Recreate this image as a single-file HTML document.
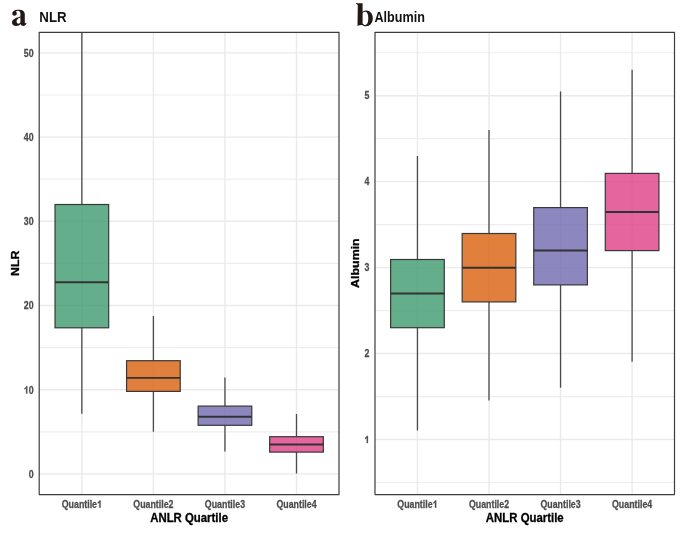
<!DOCTYPE html>
<html><head><meta charset="utf-8"><style>
html,body{margin:0;padding:0;background:#fff;width:685px;height:537px;overflow:hidden}
svg{display:block;will-change:transform}
.tk{font-family:"Liberation Sans",sans-serif;font-weight:bold;font-size:9.6px;fill:#4D4D4D;stroke:#4D4D4D;stroke-width:0.25px}
.ti{font-family:"Liberation Sans",sans-serif;font-weight:bold;font-size:12px;fill:#000;stroke:#000;stroke-width:0.3px}
.pt{font-family:"Liberation Sans",sans-serif;font-weight:bold;font-size:15.5px;fill:#111}
</style></head><body>
<svg width="685" height="537" viewBox="0 0 685 537">
<rect width="685" height="537" fill="#fff"/>
<clipPath id="ca"><rect x="39.2" y="32.3" width="299.80" height="462.30"/></clipPath>
<g clip-path="url(#ca)">
<line x1="39.2" x2="339.0" y1="431.80" y2="431.80" stroke="#EEEEEE" stroke-width="1.2"/>
<line x1="39.2" x2="339.0" y1="347.60" y2="347.60" stroke="#EEEEEE" stroke-width="1.2"/>
<line x1="39.2" x2="339.0" y1="263.40" y2="263.40" stroke="#EEEEEE" stroke-width="1.2"/>
<line x1="39.2" x2="339.0" y1="179.20" y2="179.20" stroke="#EEEEEE" stroke-width="1.2"/>
<line x1="39.2" x2="339.0" y1="95.00" y2="95.00" stroke="#EEEEEE" stroke-width="1.2"/>
<line x1="39.2" x2="339.0" y1="473.90" y2="473.90" stroke="#EAEAEA" stroke-width="1.4"/>
<line x1="39.2" x2="339.0" y1="389.70" y2="389.70" stroke="#EAEAEA" stroke-width="1.4"/>
<line x1="39.2" x2="339.0" y1="305.50" y2="305.50" stroke="#EAEAEA" stroke-width="1.4"/>
<line x1="39.2" x2="339.0" y1="221.30" y2="221.30" stroke="#EAEAEA" stroke-width="1.4"/>
<line x1="39.2" x2="339.0" y1="137.10" y2="137.10" stroke="#EAEAEA" stroke-width="1.4"/>
<line x1="39.2" x2="339.0" y1="52.90" y2="52.90" stroke="#EAEAEA" stroke-width="1.4"/>
<line x1="81.85" x2="81.85" y1="32.3" y2="494.6" stroke="#EAEAEA" stroke-width="1.4"/>
<line x1="153.40" x2="153.40" y1="32.3" y2="494.6" stroke="#EAEAEA" stroke-width="1.4"/>
<line x1="224.95" x2="224.95" y1="32.3" y2="494.6" stroke="#EAEAEA" stroke-width="1.4"/>
<line x1="296.50" x2="296.50" y1="32.3" y2="494.6" stroke="#EAEAEA" stroke-width="1.4"/>
<line x1="81.85" x2="81.85" y1="20.00" y2="204.50" stroke="#4a4a4a" stroke-width="1.3"/>
<line x1="81.85" x2="81.85" y1="327.80" y2="413.80" stroke="#4a4a4a" stroke-width="1.3"/>
<rect x="55.02" y="204.50" width="53.66" height="123.30" fill="#3D9A6F" fill-opacity="0.8" stroke="#383838" stroke-width="1.2"/>
<line x1="55.02" x2="108.68" y1="282.20" y2="282.20" stroke="#333333" stroke-width="1.9"/>
<line x1="153.40" x2="153.40" y1="316.00" y2="360.70" stroke="#4a4a4a" stroke-width="1.3"/>
<line x1="153.40" x2="153.40" y1="391.40" y2="431.80" stroke="#4a4a4a" stroke-width="1.3"/>
<rect x="126.57" y="360.70" width="53.66" height="30.70" fill="#D8600B" fill-opacity="0.8" stroke="#383838" stroke-width="1.2"/>
<line x1="126.57" x2="180.23" y1="377.90" y2="377.90" stroke="#333333" stroke-width="1.9"/>
<line x1="224.95" x2="224.95" y1="377.40" y2="406.10" stroke="#4a4a4a" stroke-width="1.3"/>
<line x1="224.95" x2="224.95" y1="425.30" y2="451.40" stroke="#4a4a4a" stroke-width="1.3"/>
<rect x="198.12" y="406.10" width="53.66" height="19.20" fill="#7069B0" fill-opacity="0.8" stroke="#383838" stroke-width="1.2"/>
<line x1="198.12" x2="251.78" y1="416.80" y2="416.80" stroke="#333333" stroke-width="1.9"/>
<line x1="296.50" x2="296.50" y1="414.00" y2="436.70" stroke="#4a4a4a" stroke-width="1.3"/>
<line x1="296.50" x2="296.50" y1="452.10" y2="473.60" stroke="#4a4a4a" stroke-width="1.3"/>
<rect x="269.67" y="436.70" width="53.66" height="15.40" fill="#DE4087" fill-opacity="0.8" stroke="#383838" stroke-width="1.2"/>
<line x1="269.67" x2="323.33" y1="444.50" y2="444.50" stroke="#333333" stroke-width="1.9"/>
</g>
<line x1="38.900000000000006" x2="339.3" y1="32.3" y2="32.3" stroke="#3f3b39" stroke-width="1.3"/>
<line x1="38.900000000000006" x2="339.3" y1="494.6" y2="494.6" stroke="#3f3b39" stroke-width="1.3"/>
<line x1="39.2" x2="39.2" y1="32.3" y2="494.6" stroke="#3f3b39" stroke-width="1.2"/>
<line x1="339.0" x2="339.0" y1="32.3" y2="494.6" stroke="#3f3b39" stroke-width="1.2"/>
<clipPath id="cb"><rect x="375.0" y="32.3" width="299.50" height="462.30"/></clipPath>
<g clip-path="url(#cb)">
<line x1="375.0" x2="674.5" y1="482.48" y2="482.48" stroke="#EEEEEE" stroke-width="1.2"/>
<line x1="375.0" x2="674.5" y1="396.53" y2="396.53" stroke="#EEEEEE" stroke-width="1.2"/>
<line x1="375.0" x2="674.5" y1="310.58" y2="310.58" stroke="#EEEEEE" stroke-width="1.2"/>
<line x1="375.0" x2="674.5" y1="224.63" y2="224.63" stroke="#EEEEEE" stroke-width="1.2"/>
<line x1="375.0" x2="674.5" y1="138.68" y2="138.68" stroke="#EEEEEE" stroke-width="1.2"/>
<line x1="375.0" x2="674.5" y1="52.73" y2="52.73" stroke="#EEEEEE" stroke-width="1.2"/>
<line x1="375.0" x2="674.5" y1="439.50" y2="439.50" stroke="#EAEAEA" stroke-width="1.4"/>
<line x1="375.0" x2="674.5" y1="353.55" y2="353.55" stroke="#EAEAEA" stroke-width="1.4"/>
<line x1="375.0" x2="674.5" y1="267.60" y2="267.60" stroke="#EAEAEA" stroke-width="1.4"/>
<line x1="375.0" x2="674.5" y1="181.65" y2="181.65" stroke="#EAEAEA" stroke-width="1.4"/>
<line x1="375.0" x2="674.5" y1="95.70" y2="95.70" stroke="#EAEAEA" stroke-width="1.4"/>
<line x1="417.45" x2="417.45" y1="32.3" y2="494.6" stroke="#EAEAEA" stroke-width="1.4"/>
<line x1="489.00" x2="489.00" y1="32.3" y2="494.6" stroke="#EAEAEA" stroke-width="1.4"/>
<line x1="560.55" x2="560.55" y1="32.3" y2="494.6" stroke="#EAEAEA" stroke-width="1.4"/>
<line x1="632.10" x2="632.10" y1="32.3" y2="494.6" stroke="#EAEAEA" stroke-width="1.4"/>
<line x1="417.45" x2="417.45" y1="156.00" y2="259.50" stroke="#4a4a4a" stroke-width="1.3"/>
<line x1="417.45" x2="417.45" y1="327.70" y2="430.60" stroke="#4a4a4a" stroke-width="1.3"/>
<rect x="390.62" y="259.50" width="53.66" height="68.20" fill="#3D9A6F" fill-opacity="0.8" stroke="#383838" stroke-width="1.2"/>
<line x1="390.62" x2="444.28" y1="293.50" y2="293.50" stroke="#333333" stroke-width="1.9"/>
<line x1="489.00" x2="489.00" y1="129.90" y2="233.50" stroke="#4a4a4a" stroke-width="1.3"/>
<line x1="489.00" x2="489.00" y1="301.90" y2="400.60" stroke="#4a4a4a" stroke-width="1.3"/>
<rect x="462.17" y="233.50" width="53.66" height="68.40" fill="#D8600B" fill-opacity="0.8" stroke="#383838" stroke-width="1.2"/>
<line x1="462.17" x2="515.83" y1="267.80" y2="267.80" stroke="#333333" stroke-width="1.9"/>
<line x1="560.55" x2="560.55" y1="91.40" y2="207.60" stroke="#4a4a4a" stroke-width="1.3"/>
<line x1="560.55" x2="560.55" y1="284.90" y2="387.70" stroke="#4a4a4a" stroke-width="1.3"/>
<rect x="533.72" y="207.60" width="53.66" height="77.30" fill="#7069B0" fill-opacity="0.8" stroke="#383838" stroke-width="1.2"/>
<line x1="533.72" x2="587.38" y1="250.50" y2="250.50" stroke="#333333" stroke-width="1.9"/>
<line x1="632.10" x2="632.10" y1="69.80" y2="173.40" stroke="#4a4a4a" stroke-width="1.3"/>
<line x1="632.10" x2="632.10" y1="250.60" y2="361.70" stroke="#4a4a4a" stroke-width="1.3"/>
<rect x="605.27" y="173.40" width="53.66" height="77.20" fill="#DE4087" fill-opacity="0.8" stroke="#383838" stroke-width="1.2"/>
<line x1="605.27" x2="658.93" y1="212.00" y2="212.00" stroke="#333333" stroke-width="1.9"/>
</g>
<line x1="374.7" x2="674.8" y1="32.3" y2="32.3" stroke="#3f3b39" stroke-width="1.3"/>
<line x1="374.7" x2="674.8" y1="494.6" y2="494.6" stroke="#3f3b39" stroke-width="1.3"/>
<line x1="375.0" x2="375.0" y1="32.3" y2="494.6" stroke="#3f3b39" stroke-width="1.2"/>
<line x1="674.5" x2="674.5" y1="32.3" y2="494.6" stroke="#3f3b39" stroke-width="1.2"/>
<text transform="translate(33.60,477.70) scale(0.92,1.05)" text-anchor="end" class="tk">0</text>
<path transform="translate(23.78,393.50) scale(0.00883,-0.01008)" d="M402 0L262 0L262 516C211 468 151 432 82 410L82 534C118 546 158 568 200 602C243 636 273 674 289 716L402 716Z" fill="#4D4D4D" stroke="#4D4D4D" stroke-width="28.3"/>
<text transform="translate(33.60,393.50) scale(0.92,1.05)" text-anchor="end" class="tk">0</text>
<text transform="translate(33.60,309.30) scale(0.92,1.05)" text-anchor="end" class="tk">20</text>
<text transform="translate(33.60,225.10) scale(0.92,1.05)" text-anchor="end" class="tk">30</text>
<text transform="translate(33.60,140.90) scale(0.92,1.05)" text-anchor="end" class="tk">40</text>
<text transform="translate(33.60,56.70) scale(0.92,1.05)" text-anchor="end" class="tk">50</text>
<path transform="translate(364.39,443.10) scale(0.00883,-0.01008)" d="M402 0L262 0L262 516C211 468 151 432 82 410L82 534C118 546 158 568 200 602C243 636 273 674 289 716L402 716Z" fill="#4D4D4D" stroke="#4D4D4D" stroke-width="28.3"/>
<text transform="translate(369.30,357.15) scale(0.92,1.05)" text-anchor="end" class="tk">2</text>
<text transform="translate(369.30,271.20) scale(0.92,1.05)" text-anchor="end" class="tk">3</text>
<text transform="translate(369.30,185.25) scale(0.92,1.05)" text-anchor="end" class="tk">4</text>
<text transform="translate(369.30,99.30) scale(0.92,1.05)" text-anchor="end" class="tk">5</text>
<text transform="translate(61.73,507.70) scale(0.92,1.06)" text-anchor="start" class="tk">Quantile</text>
<path transform="translate(97.06,507.70) scale(0.00883,-0.01018)" d="M402 0L262 0L262 516C211 468 151 432 82 410L82 534C118 546 158 568 200 602C243 636 273 674 289 716L402 716Z" fill="#4D4D4D" stroke="#4D4D4D" stroke-width="28.3"/>
<text transform="translate(153.40,507.70) scale(0.92,1.06)" text-anchor="middle" class="tk">Quantile2</text>
<text transform="translate(224.95,507.70) scale(0.92,1.06)" text-anchor="middle" class="tk">Quantile3</text>
<text transform="translate(296.50,507.70) scale(0.92,1.06)" text-anchor="middle" class="tk">Quantile4</text>
<text transform="translate(189.10,522.10) scale(0.95,1.0)" text-anchor="middle" class="ti">ANLR Quartile</text>
<text transform="translate(397.33,507.70) scale(0.92,1.06)" text-anchor="start" class="tk">Quantile</text>
<path transform="translate(432.66,507.70) scale(0.00883,-0.01018)" d="M402 0L262 0L262 516C211 468 151 432 82 410L82 534C118 546 158 568 200 602C243 636 273 674 289 716L402 716Z" fill="#4D4D4D" stroke="#4D4D4D" stroke-width="28.3"/>
<text transform="translate(489.00,507.70) scale(0.92,1.06)" text-anchor="middle" class="tk">Quantile2</text>
<text transform="translate(560.55,507.70) scale(0.92,1.06)" text-anchor="middle" class="tk">Quantile3</text>
<text transform="translate(632.10,507.70) scale(0.92,1.06)" text-anchor="middle" class="tk">Quantile4</text>
<text transform="translate(524.75,522.10) scale(0.95,1.0)" text-anchor="middle" class="ti">ANLR Quartile</text>
<text transform="translate(18.60,263.30) rotate(-90) scale(1.03,0.98)" text-anchor="middle" class="ti">NLR</text>
<text transform="translate(359.00,263.10) rotate(-90) scale(1.035,0.98)" text-anchor="middle" class="ti">Albumin</text>
<path fill="#231815" fill-rule="evenodd" d="M18.5 9.8C22.2 9.8 24.8 11 24.8 14.4L24.8 22.4C24.8 23.3 25.3 23.5 25.8 23.1L26.7 22.8C26.2 24.8 25 25.9 23.3 25.9C21.8 25.9 21 25.1 20.7 23.9C19.8 25.2 18.3 25.9 16.2 25.9C13.6 25.9 12 24.6 12 22.5C12 19.8 14.3 18.3 20.4 16.5L20.4 13.7C20.4 11.7 19.5 10.7 17.9 10.7C17 10.7 16.3 11 16 11.5C16.6 12 16.8 12.7 16.8 13.5C16.8 14.8 15.8 15.7 14.5 15.7C13.1 15.7 12.3 14.7 12.3 13.4C12.3 11.3 15 9.8 18.5 9.8ZM20.4 17.5C17.6 18.4 16.6 19.8 16.6 21.6C16.6 23 17.4 23.7 18.4 23.7C19.3 23.7 19.9 23.3 20.4 22.6Z"/>
<text transform="translate(39.30,21.80) scale(0.858,1.0)" text-anchor="start" class="pt">NLR</text>
<path fill="#231815" fill-rule="evenodd" d="M355.9 3.3L362.6 3.2L362.6 11.7C363.6 10.9 364.8 10.5 366.1 10.5C370.1 10.5 372.8 13.8 372.8 18.2C372.8 22.9 369.9 26.2 365.8 26.2C364.3 26.2 363.2 25.7 362.3 24.9L360.2 25.1L357.5 26.1L357.8 5.3C357.8 4.6 357.1 4.1 355.9 3.9ZM362.6 13.1C363.3 12.3 364.1 11.8 365 11.8C367.3 11.8 368.3 14.3 368.3 18.4C368.3 22.6 367.2 24.9 365.2 24.9C364.1 24.9 363.2 24.3 362.6 23.4Z"/>
<text transform="translate(374.40,21.80) scale(0.814,1.0)" text-anchor="start" class="pt">Albumin</text>
</svg></body></html>
